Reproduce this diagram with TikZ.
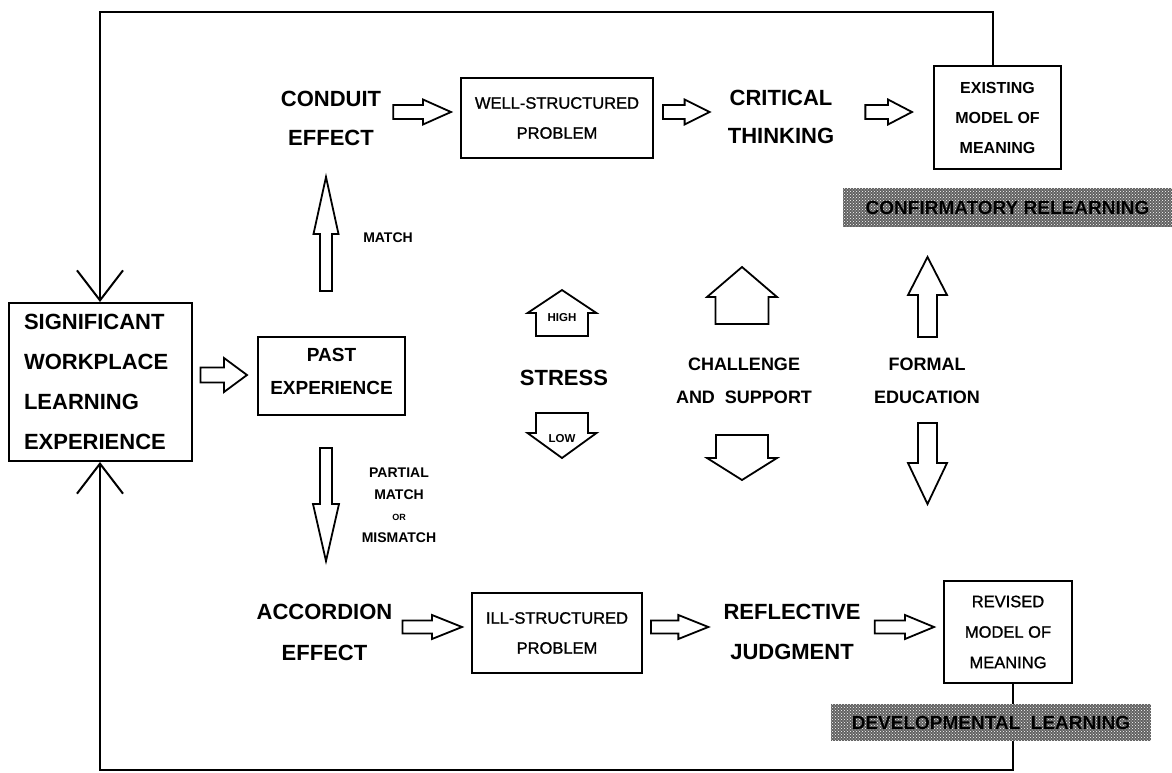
\documentclass[tikz,border=0pt]{standalone}
\usepackage{fontspec}
\setmainfont{Liberation Sans}
\newfontfamily\medsans[FakeBold=1.1]{Liberation Sans}
\usetikzlibrary{calc,patterns,arrows.meta}

\tikzset{
  box/.style={draw, line width=2pt, inner sep=0pt, align=center},
  big/.style={font=\fontsize{22}{39}\selectfont\bfseries, align=center, inner sep=0pt},
  mid/.style={font=\fontsize{18}{33}\selectfont\bfseries, align=center, inner sep=0pt},
  boxtxt/.style={font=\fontsize{16.5}{30}\selectfont\medsans},
  boxtxtb/.style={font=\fontsize{16}{30}\selectfont\bfseries},
  small/.style={font=\fontsize{14}{21.5}\selectfont\bfseries, align=center, inner sep=0pt},
  tiny/.style={font=\fontsize{11.5}{11.5}\selectfont\bfseries, inner sep=0pt},
  blk/.style={draw, line width=1.8pt, fill=white, line join=miter},
  fb/.style={line width=2pt, line join=miter},
  barb/.style={-{Straight Barb[length=30pt,width=46pt,line width=2pt]}},
  band/.style={inner sep=0pt, fill=black!62,
     postaction={pattern=crosshatch dots, pattern color=white},
     font=\fontsize{19}{19}\selectfont\bfseries},
}

% horizontal block arrow: from, to, shaft half, head half, head length
\newcommand\harr[5]{%
  \draw[blk] let \p1=(#1), \p2=(#2) in
    (\x1,\y1-#3) -- (\x2-#5,\y1-#3) -- (\x2-#5,\y1-#4) -- (\x2,\y1)
    -- (\x2-#5,\y1+#4) -- (\x2-#5,\y1+#3) -- (\x1,\y1+#3) -- cycle;}
% vertical block arrow: from, to, shaft half, head half, head length
\newcommand\varr[5]{%
  \draw[blk] let \p1=(#1), \p2=(#2), \n1={ifthenelse(\y2>\y1,1,-1)} in
    (\x1-#3,\y1) -- (\x1-#3,{\y2-\n1*#5}) -- (\x1-#4,{\y2-\n1*#5}) -- (\x1,\y2)
    -- (\x1+#4,{\y2-\n1*#5}) -- (\x1+#3,{\y2-\n1*#5}) -- (\x1+#3,\y1) -- cycle;}

\begin{document}
\begin{tikzpicture}[x=1pt,y=-1pt]
\useasboundingbox (0,0) rectangle (1172,772);
\fill[white] (0,0) rectangle (1172,772);

% nodes
\node[box, minimum width=183pt, minimum height=158pt, text width=152pt, align=left,
      font=\fontsize{22}{40}\selectfont\bfseries] (swle) at (100,382)
      {SIGNIFICANT\\WORKPLACE\\LEARNING\\EXPERIENCE};
\node[box, minimum width=147pt, minimum height=78pt,
      label={[yshift=5pt, align=center, inner sep=0pt, font=\fontsize{19}{33}\selectfont\bfseries]center:PAST\\EXPERIENCE}]
      (past) at (331.5,376) {};
\node[big] (conduit) at (331,118) {CONDUIT\\EFFECT};
\node[box, boxtxt, minimum width=192pt, minimum height=80pt] (well) at (557,118)
      {WELL-STRUCTURED\\PROBLEM};
\node[big, font=\fontsize{22}{38}\selectfont\bfseries] (critical) at (781,117) {CRITICAL\\THINKING};
\node[box, boxtxtb, minimum width=127pt, minimum height=103pt] (existing) at (997.5,117.5)
      {EXISTING\\MODEL OF\\MEANING};

\node[big, font=\fontsize{22}{41}\selectfont\bfseries] (accordion) at (324.5,632) {ACCORDION\\EFFECT};
\node[box, boxtxt, minimum width=170pt, minimum height=80pt] (ill) at (557,633)
      {ILL-STRUCTURED\\PROBLEM};
\node[big, font=\fontsize{22}{40}\selectfont\bfseries] (reflective) at (792,632) {REFLECTIVE\\JUDGMENT};
\node[box, boxtxt, font=\fontsize{16.5}{30.5}\selectfont\medsans, minimum width=128pt, minimum height=102pt] (revised) at (1008,632)
      {REVISED\\MODEL OF\\MEANING};

\node[small] (match) at (388,238) {MATCH};
\node[small] (pm) at (399,505) {PARTIAL\\MATCH\\{\fontsize{9}{9}\selectfont OR}\\MISMATCH};

\node[big] (stress) at (564,378) {STRESS};
\node[mid] (chal) at (744,381) {CHALLENGE\\AND\ \ SUPPORT};
\node[mid] (formal) at (927,381) {FORMAL\\EDUCATION};

% feedback loop
\coordinate (tl) at (swle.north |- 0,12);
\coordinate (bl) at (swle.south |- 0,770);
\draw[fb,barb] ($(existing.north)+(-4.5,0)$) |- (tl) -- (swle.north);
\draw[fb,barb] ($(revised.south)+(5,0)$) |- (bl) -- (swle.south);

% bands
\node[band, minimum width=329pt, minimum height=39pt] (conf) at (1007.5,207.5) {CONFIRMATORY RELEARNING};
\node[band, minimum width=320pt, minimum height=37pt] (devel) at (991,722.5) {DEVELOPMENTAL\ \ LEARNING};

% horizontal block arrows
\harr{$(swle.east)+(8,-7)$}{$(past.west)+(-10,0)$}{7.5pt}{17pt}{23pt}
\harr{$(conduit.east)+(12,-6)$}{$(well.west)+(-9,0)$}{7pt}{12.5pt}{28pt}
\harr{$(well.east)+(9,-6)$}{$(critical.west)+(-18,0)$}{7pt}{12.5pt}{25pt}
\harr{$(critical.east)+(31,-5)$}{$(existing.west)+(-21,0)$}{7pt}{12.5pt}{24pt}
\harr{$(accordion.east)+(10,-5)$}{$(ill.west)+(-9,0)$}{6.5pt}{12pt}{30pt}
\harr{$(ill.east)+(8,-6)$}{$(reflective.west)+(-15,0)$}{6.5pt}{12pt}{30pt}
\harr{$(reflective.east)+(14,-5)$}{$(revised.west)+(-9,0)$}{6.5pt}{12pt}{29pt}

% vertical block arrows
\varr{$(past.north)+(-5.5,-45)$}{$(past.north)+(-5.5,-159)$}{6pt}{12.5pt}{57pt}
\varr{$(past.south)+(-5.5,32)$}{$(past.south)+(-5.5,145)$}{6pt}{13pt}{57pt}
\varr{$(stress)+(-2,-42)$}{$(stress)+(-2,-88)$}{26pt}{34.5pt}{23pt}
\varr{$(stress)+(-2,35)$}{$(stress)+(-2,80)$}{26pt}{34.5pt}{25pt}
\varr{$(chal)+(-2,-57)$}{$(chal)+(-2,-114)$}{26.5pt}{35pt}{30pt}
\varr{$(chal)+(-2,54)$}{$(chal)+(-2,99)$}{26pt}{35pt}{22pt}
\varr{$(formal)+(0.5,-44)$}{$(formal)+(0.5,-124)$}{9.5pt}{19.5pt}{38pt}
\varr{$(formal)+(0.5,42)$}{$(formal)+(0.5,123)$}{9.5pt}{19.5pt}{41pt}

\node[tiny] (high) at (562,318) {HIGH};
\node[tiny] (low) at (562,439) {LOW};
\end{tikzpicture}
\end{document}
